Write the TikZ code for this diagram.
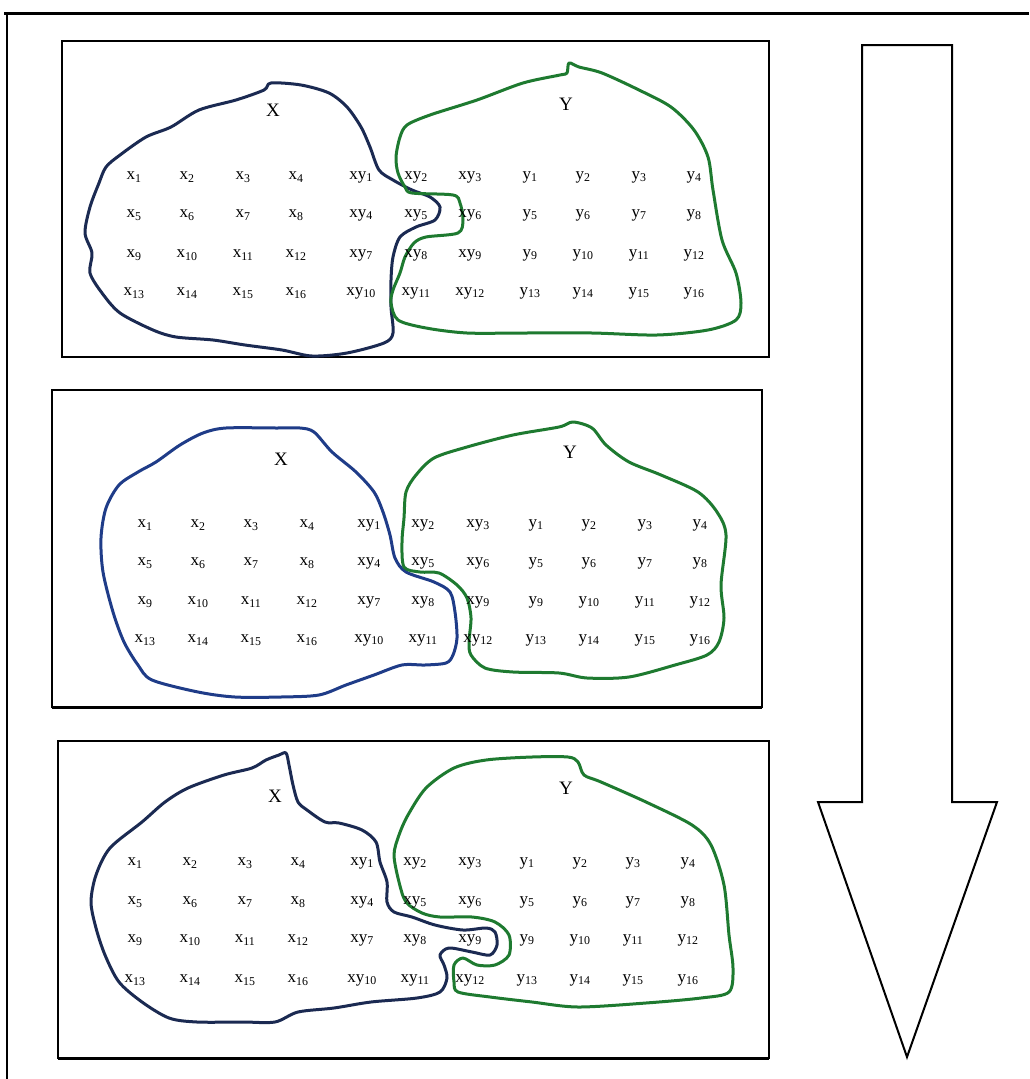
\documentclass[tikz,border=0pt]{standalone}
\usepackage{fontspec}
\setmainfont{Liberation Serif}
\definecolor{navyline}{HTML}{1B2A52}
\definecolor{blueline}{HTML}{1F3C88}
\definecolor{greenline}{HTML}{1E7A30}
\newcommand\gridlabels[3]{%
 \foreach \r in {0,1,2,3}{%
  \foreach \c in {0,...,10}{%
   \pgfmathsetmacro\cx{{#2}[\c]}%
   \pgfmathsetmacro\ry{{#3}[\r]}%
   \pgfmathtruncatemacro\kind{\c<4 ? 0 : (\c<7 ? 1 : 2)}%
   \ifcase\kind
     \pgfmathtruncatemacro\idx{4*\r+\c+1}\def\lab{x}%
   \or
     \pgfmathtruncatemacro\idx{3*\r+\c-3}\def\lab{xy}%
   \or
     \pgfmathtruncatemacro\idx{4*\r+\c-6}\def\lab{y}%
   \fi
   \node[cell] (#1-\r-\c) at (\cx,\ry) {\lab\textsubscript{\idx}};%
  }}}
\begin{document}
\begin{tikzpicture}[x=1pt,y=-1pt,
  cell/.style={inner sep=0pt,font=\fontsize{17}{17}\selectfont},
  setlabel/.style={inner sep=0pt,font=\fontsize{19}{19}\selectfont},
  panel/.style={draw=black,line width=1.5pt},
  blob/.style={line width=3pt,line join=round},
  bigarrow/.style={draw=black,line width=2pt,line join=miter,fill=white}]
\useasboundingbox (0,0) rectangle (1029,1079);
% outer frame
\draw[line width=3pt] (4,13) -- (1029,13);
\draw[line width=2pt] (7,13) -- (7,1079);

% panels
\draw[panel,line width=2.5pt] (62,41) rectangle (769,357);
\draw[panel] (52,390) rectangle (762,707);
\draw[line width=3pt] (52,707) -- (762,707);
\draw[panel] (58,741) rectangle (769,1058);
\draw[line width=3pt] (58,1058) -- (769,1058);

% arrow
\draw[bigarrow] (862,45) -- (952,45) -- (952,802) -- (997,802) -- (907,1057) -- (818,802) -- (862,802) -- cycle;

% ---------- panel 1 ----------
\draw[blob,draw=navyline] plot[smooth cycle,tension=0.5] coordinates {
 (271,83) (264,90) (236,100) (199,110) (171,127) (146,137) (120,155) (106,167)
 (99,183) (90,207) (85,233) (92,253) (90,273) (102,293) (120,313) (153,330)
 (176,337) (213,340) (245,345) (282,350) (312,356) (347,353) (384,343) (393,333)
 (391,307) (391,280) (393,257) (400,237) (416,227) (435,220) (440,207) (430,197)
 (412,190) (393,180) (379,170) (370,147) (361,127) (347,107) (329,93) (301,85)};
\draw[blob,draw=greenline] plot[smooth cycle,tension=0.5] coordinates {
 (569,63) (567,73) (560,75) (523,83) (477,100) (430,115) (407,125) (400,137)
 (396,157) (398,173) (405,187) (412,193) (453,195) (460,203) (463,220) (458,233)
 (426,237) (414,243) (405,257) (400,273) (393,290) (391,303) (398,320) (426,328)
 (467,333) (523,333) (592,333) (657,335) (708,330) (736,320) (741,303) (736,273)
 (722,240) (713,190) (708,157) (694,130) (671,107) (639,90) (602,73) (579,67)};
\node[setlabel] (p1X) at (273,110) {X};
\node[setlabel] (p1Y) at (566,104) {Y};
\gridlabels{p1}{134,187,243,296,361,416,470,530,583,639,694}{177,215,255,293}

% ---------- panel 2 ----------
\draw[blob,draw=blueline] plot[smooth cycle,tension=0.5] coordinates {
 (226,428) (277,428) (300,428) (314,432) (332,452) (356,472) (374,492) (383,512)
 (390,535) (395,558) (406,572) (434,582) (450,592) (455,612) (457,638) (453,655)
 (446,663) (425,665) (402,665) (374,675) (346,685) (319,695) (281,697) (235,697)
 (198,692) (152,680) (138,665) (124,642) (113,612) (103,572) (101,538) (106,508)
 (119,485) (138,472) (156,462) (180,445) (203,433)};
\draw[blob,draw=greenline] plot[smooth cycle,tension=0.5] coordinates {
 (573,422) (559,427) (513,435) (467,447) (434,458) (416,475) (406,492) (404,518)
 (402,542) (404,567) (420,572) (439,573) (457,585) (467,598) (471,618) (469,642)
 (471,655) (485,668) (513,672) (559,673) (587,678) (629,677) (675,665) (707,655)
 (719,642) (724,618) (721,585) (726,535) (717,512) (698,492) (661,475) (629,462)
 (606,445) (592,428)};
\node[setlabel] (p2X) at (281,459) {X};
\node[setlabel] (p2Y) at (570,452) {Y};
\gridlabels{p2}{145,198,251,307,369,423,478,536,589,645,700}{525,563,602,640}

% ---------- panel 3 ----------
\draw[blob,draw=navyline] plot[smooth cycle,tension=0.5] coordinates {
 (286,753) (279,755) (266,760) (252,768) (224,775) (188,788) (165,802) (142,822)
 (110,848) (96,875) (91,902) (96,928) (105,955) (119,982) (142,1002) (169,1018)
 (197,1022) (243,1022) (275,1022) (298,1012) (334,1008) (371,1002) (417,998)
 (440,992) (447,978) (444,965) (440,955) (449,948) (472,952) (490,955) (497,945)
 (495,932) (486,928) (463,930) (435,925) (412,917) (394,912) (387,902) (387,882)
 (380,862) (376,842) (362,830) (339,823) (325,822) (307,810) (298,802) (293,785)
 (289,765)};
\draw[blob,draw=greenline] plot[smooth cycle,tension=0.5] coordinates {
 (568,757) (532,757) (486,760) (454,768) (426,788) (408,815) (399,835) (394,855)
 (399,882) (406,902) (422,913) (440,917) (472,917) (495,922) (509,935) (509,955)
 (495,965) (477,965) (463,958) (454,965) (454,982) (458,992) (490,997) (532,1002)
 (578,1007) (646,1003) (701,998) (729,992) (733,968) (729,935) (724,885) (711,845)
 (692,825) (646,802) (601,782) (584,775) (578,762)};
\node[setlabel] (p3X) at (275,796) {X};
\node[setlabel] (p3Y) at (566,788) {Y};
\gridlabels{p3}{135,190,245,298,362,415,470,527,580,633,688}{863,902,940,980}
\end{tikzpicture}
\end{document}
